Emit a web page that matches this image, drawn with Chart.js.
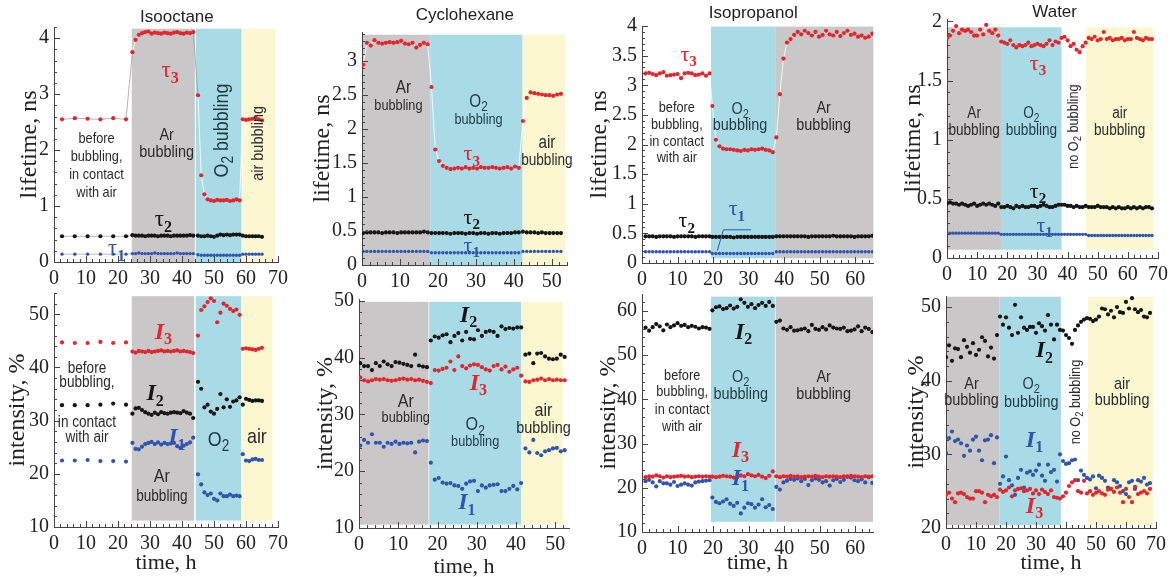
<!DOCTYPE html>
<html>
<head>
<meta charset="utf-8">
<script src="https://cdn.jsdelivr.net/npm/chart.js@4.4.1/dist/chart.umd.min.js"></script>
<style>
  body { margin:0; background:#fff; width:1174px; height:577px; overflow:hidden; position:relative; }
  canvas { position:absolute; }
</style>
</head>
<body>
<script>
// ---------- data ----------
// Isooctane (time, h)
var isoT = [2.5,6.5,10.5,14.5,18.5,22.5,
  24.5,25.5,26.5,27.5,28.5,29.5,30.5,31.5,32.5,33.5,34.5,35.5,36.5,37.5,38.5,39.5,40.5,41.5,42.5,43.5,
  45,46,47,48,49,50,51,52,53,54,55,56,57,58,
  59,60,61,62,63,64,65];
var isoTau3 = [2.55,2.57,2.56,2.55,2.57,2.55,
  3.75,3.97,4.06,4.09,4.11,4.12,4.08,4.10,4.09,4.08,4.10,4.09,4.08,4.10,4.11,4.09,4.08,4.10,4.09,4.11,
  2.98,1.55,1.21,1.12,1.10,1.09,1.11,1.10,1.10,1.11,1.09,1.10,1.12,1.10,
  2.55,2.54,2.55,2.56,2.58,2.55,2.53];
var isoTau2 = [0.46,0.46,0.46,0.46,0.46,0.46,
  0.48,0.47,0.47,0.47,0.46,0.47,0.47,0.47,0.46,0.47,0.47,0.47,0.46,0.47,0.47,0.47,0.47,0.47,0.48,0.47,
  0.47,0.46,0.46,0.47,0.46,0.45,0.47,0.49,0.48,0.49,0.48,0.49,0.49,0.49,
  0.47,0.46,0.46,0.46,0.46,0.46,0.45];
var isoTau1 = [0.14,0.14,0.14,0.14,0.14,0.14,
  0.15,0.15,0.16,0.15,0.15,0.15,0.15,0.16,0.15,0.15,0.15,0.15,0.15,0.15,0.16,0.15,0.15,0.15,0.15,0.15,
  0.13,0.12,0.12,0.12,0.12,0.12,0.12,0.12,0.12,0.12,0.12,0.12,0.12,0.12,
  0.14,0.14,0.14,0.14,0.14,0.14,0.14];
var isoI3 = [44.7,44.6,44.6,44.8,44.6,44.7,
  43.0,42.8,43.1,43.0,42.9,43.1,42.9,43.0,43.1,43.2,43.0,43.1,43.0,43.1,43.2,43.0,43.1,43.0,42.9,42.7,
  46.0,50.8,51.5,52.3,53.0,52.5,48.5,50.3,52.0,51.6,51.0,50.6,50.9,49.9,
  43.5,43.6,43.5,43.4,43.3,43.5,43.7];
var isoI2 = [32.9,32.9,32.9,33.0,33.2,33.0,
  31.3,32.3,32.4,32.0,31.6,31.3,31.1,31.5,31.2,31.6,31.4,31.3,31.5,31.6,31.5,31.4,31.8,31.5,31.3,30.5,
  37.3,36.0,32.5,33.0,31.7,31.3,32.2,35.0,32.5,34.0,32.6,33.6,33.8,34.4,
  33.0,34.1,33.9,33.7,33.8,33.8,33.7];
var isoI1 = [22.5,22.5,22.6,22.4,22.4,22.3,
  25.8,24.7,24.6,25.1,25.6,25.8,26.0,25.6,25.9,25.5,25.8,25.6,25.7,25.8,25.2,24.9,25.3,25.6,25.9,26.8,
  19.9,18.0,16.5,16.0,16.3,15.3,15.0,16.3,15.8,15.8,16.1,15.8,15.9,15.8,
  23.7,22.5,22.4,22.7,22.8,22.6,22.6];

// Cyclohexane
var cycT = [0.3,1.3,2.3,3.3,4.3,5.3,6.3,7.3,8.3,9.3,10.3,11.3,12.3,13.3,14.3,15.3,16.3,17.3,
  18.3,19.3,20.3,21.3,22.3,23.3,24.3,25.3,26.3,27.3,28.3,29.3,30.3,31.3,32.3,33.3,34.3,35.3,36.3,37.3,38.3,39.3,40.3,41.3,
  42.4,43.4,44.4,45.4,46.4,47.4,48.4,49.4,50.4,51.4,52.4];
var cycTau3 = [2.95,3.27,3.23,3.31,3.27,3.26,3.27,3.28,3.27,3.28,3.30,3.26,3.25,3.27,3.20,3.24,3.27,3.25,
  2.62,1.70,1.53,1.46,1.43,1.41,1.42,1.43,1.42,1.44,1.42,1.43,1.42,1.44,1.43,1.43,1.44,1.43,1.42,1.43,1.44,1.42,1.45,1.43,
  2.12,2.46,2.54,2.53,2.52,2.51,2.50,2.50,2.49,2.51,2.52];
var cycTau2 = [0.47,0.48,0.48,0.48,0.48,0.47,0.48,0.48,0.48,0.47,0.48,0.48,0.48,0.48,0.48,0.48,0.49,0.48,
  0.47,0.47,0.47,0.47,0.47,0.46,0.47,0.47,0.47,0.46,0.47,0.47,0.46,0.47,0.47,0.46,0.47,0.47,0.46,0.47,0.47,0.47,0.48,0.48,
  0.49,0.48,0.48,0.48,0.47,0.48,0.47,0.47,0.47,0.47,0.47];
var cycTau1 = [0.20,0.20,0.20,0.20,0.20,0.20,0.20,0.20,0.20,0.20,0.20,0.20,0.20,0.20,0.20,0.20,0.20,0.20,
  0.18,0.18,0.18,0.18,0.18,0.18,0.18,0.18,0.18,0.18,0.18,0.18,0.18,0.18,0.18,0.18,0.18,0.18,0.18,0.18,0.18,0.18,0.18,0.18,
  0.20,0.20,0.20,0.20,0.20,0.20,0.20,0.20,0.20,0.20,0.20];
var cycI2 = [39.0,38.5,38.5,37.8,39.0,38.5,39.3,38.8,38.5,39.2,39.1,38.9,38.7,38.5,40.5,38.6,38.4,38.3,
  43.0,43.7,43.5,43.9,44.1,42.7,43.8,44.3,43.0,44.5,43.3,43.2,44.8,43.8,44.5,44.7,44.5,43.8,45.5,45.0,45.2,45.1,45.3,45.3,
  40.5,40.7,39.0,40.7,40.8,40.2,39.8,39.7,39.8,40.5,40.1];
var cycI3 = [36.5,36.0,35.8,36.0,36.2,36.1,36.2,36.0,35.9,36.0,36.2,36.3,36.1,36.2,36.0,36.1,35.9,35.7,
  35.5,37.8,37.7,38.0,38.2,39.3,37.8,40.2,38.5,38.1,38.6,38.8,38.7,38.3,37.9,37.7,38.5,38.7,37.9,38.4,37.5,37.9,38.2,36.8,
  35.8,35.7,36.0,36.1,36.3,36.0,36.2,36.0,36.1,36.0,36.0];
var cycI1 = [24.5,25.5,25.0,26.5,25.0,25.0,24.3,25.0,24.8,25.2,24.8,25.0,24.9,25.0,23.3,25.2,25.4,25.3,
  21.5,18.5,18.8,18.0,17.8,17.9,17.5,17.4,16.9,17.8,18.2,18.3,16.5,17.5,17.1,17.5,17.6,17.7,16.5,16.5,16.9,17.4,16.8,17.9,
  24.0,23.3,25.5,23.2,22.8,23.5,23.7,24.0,24.1,23.5,23.7];

// Isopropanol
var propT = [1,2,3,4,5,6,7,8,9,10,11,12,13,14,15,16,17,18,19,
  19.8,20.8,21.8,22.8,23.8,24.8,25.8,26.8,27.8,28.8,29.8,30.8,31.8,32.8,33.8,34.8,35.8,36.8,
  37.8,38.8,39.8,40.8,41.8,42.8,43.8,44.8,45.8,46.8,47.8,48.8,49.8,50.8,51.8,52.8,53.8,54.8,55.8,56.8,57.8,58.8,59.8,60.8,61.8,62.8,63.8,64.8];
var propTau3 = [3.20,3.21,3.19,3.17,3.20,3.22,3.16,3.17,3.18,3.19,3.12,3.20,3.21,3.20,3.17,3.18,3.20,3.16,3.20,
  2.65,2.08,1.97,1.93,1.92,1.92,1.91,1.90,1.89,1.91,1.90,1.92,1.91,1.92,1.93,1.91,1.90,1.87,
  2.12,2.85,3.45,3.72,3.78,3.85,3.90,3.86,3.92,3.88,3.84,3.90,3.82,3.85,3.92,3.86,3.84,3.90,3.83,3.88,3.92,3.85,3.87,3.82,3.84,3.80,3.82,3.87];
var propTau2 = [0.45,0.45,0.45,0.44,0.45,0.45,0.45,0.45,0.44,0.45,0.45,0.45,0.45,0.45,0.44,0.45,0.45,0.45,0.45,
  0.44,0.44,0.44,0.44,0.44,0.44,0.43,0.44,0.44,0.44,0.44,0.44,0.44,0.44,0.44,0.44,0.44,0.44,
  0.45,0.45,0.45,0.45,0.45,0.45,0.45,0.45,0.45,0.44,0.45,0.45,0.45,0.45,0.45,0.45,0.46,0.45,0.45,0.45,0.45,0.45,0.44,0.45,0.45,0.45,0.45,0.46];
var propTau1 = [0.19,0.19,0.19,0.19,0.19,0.19,0.19,0.19,0.19,0.19,0.19,0.19,0.19,0.19,0.19,0.19,0.19,0.19,0.19,
  0.16,0.16,0.16,0.16,0.16,0.16,0.16,0.16,0.16,0.16,0.16,0.16,0.16,0.16,0.16,0.16,0.16,0.16,
  0.19,0.19,0.19,0.19,0.19,0.19,0.19,0.19,0.19,0.19,0.19,0.19,0.19,0.19,0.19,0.19,0.19,0.19,0.19,0.19,0.19,0.19,0.19,0.19,0.19,0.19,0.19,0.19];
var propI2 = [56.2,55.5,56.3,57.0,56.5,55.6,56.9,56.3,56.7,57.2,56.6,56.8,56.3,56.6,56.4,56.0,56.3,56.2,55.9,
  60.1,60.8,61.0,60.4,60.6,61.2,60.5,60.9,62.6,61.8,60.9,61.5,60.6,61.3,61.8,61.1,62.0,61.1,
  57.5,57.8,56.0,55.7,56.3,55.5,55.6,55.8,56.0,55.4,56.8,55.9,55.7,56.3,55.8,56.7,56.2,56.0,55.9,56.2,55.4,55.5,55.8,56.5,55.4,56.2,55.9,55.2];
var propI3 = [22.4,22.6,22.5,22.8,22.6,22.3,22.6,22.4,22.5,22.6,22.7,22.5,22.6,22.4,22.5,22.6,22.5,22.6,22.5,
  22.5,22.4,22.5,22.7,22.6,22.5,22.3,22.4,22.8,22.6,23.1,22.8,22.6,22.9,22.5,22.2,22.7,23.7,
  22.6,22.4,22.6,22.5,22.7,22.5,22.6,22.4,22.5,22.6,22.5,22.7,22.5,22.4,22.6,22.5,22.6,22.5,22.4,22.6,22.5,22.7,22.6,22.5,22.4,22.6,22.5,22.6];
var propI1 = [21.5,21.8,21.2,20.3,21.5,21.0,21.0,20.7,21.3,20.4,20.7,21.0,20.7,20.5,21.2,21.4,21.5,21.6,21.7,
  17.8,16.8,16.5,16.9,17.4,16.4,15.9,16.6,14.2,15.5,16.5,16.3,15.5,16.2,17.4,15.6,16.1,15.2,
  20.2,19.6,21.2,21.6,22.0,21.8,22.1,21.5,22.0,20.6,21.7,22.1,21.8,21.2,21.5,20.5,21.7,22.0,21.3,21.8,22.5,22.3,21.7,21.5,21.9,21.2,22.4,21.1];

// Water
var waterT = [0,1,2,3,4,5,6,7,8,9,10,11,12,13,14,15,16,17,
  18,19,20,21,22,23,24,25,26,27,28,29,30,31,32,33,34,35,36,37,
  38,39,40,41,42,43,44,45,46,
  47,48,49,50,51,52,53,54,55,56,57,58,59,60,61,62,63,64,65,66,67,68];
var waterTau3 = [1.86,1.88,1.92,1.96,1.90,1.93,1.92,1.93,1.91,1.88,1.88,1.93,1.89,1.97,1.92,1.90,1.93,1.88,
  1.83,1.82,1.81,1.84,1.80,1.78,1.80,1.79,1.80,1.82,1.79,1.80,1.81,1.80,1.79,1.81,1.84,1.80,1.83,1.82,
  1.86,1.87,1.84,1.79,1.81,1.76,1.74,1.79,1.82,
  1.86,1.85,1.87,1.84,1.85,1.91,1.85,1.86,1.84,1.85,1.85,1.86,1.84,1.85,1.85,1.91,1.86,1.85,1.84,1.86,1.85,1.85];
var waterTau2 = [0.46,0.47,0.46,0.46,0.45,0.46,0.45,0.44,0.45,0.46,0.44,0.45,0.46,0.45,0.46,0.45,0.44,0.46,
  0.43,0.43,0.44,0.43,0.42,0.44,0.43,0.44,0.43,0.43,0.44,0.44,0.43,0.44,0.45,0.44,0.43,0.43,0.44,0.45,
  0.45,0.45,0.44,0.44,0.43,0.44,0.43,0.43,0.44,
  0.43,0.43,0.43,0.44,0.43,0.43,0.43,0.42,0.43,0.42,0.43,0.42,0.42,0.43,0.42,0.43,0.42,0.43,0.42,0.43,0.43,0.42];
var waterTau1 = [0.21,0.21,0.21,0.21,0.21,0.21,0.21,0.21,0.21,0.21,0.21,0.21,0.21,0.21,0.21,0.21,0.21,0.21,
  0.20,0.20,0.20,0.20,0.20,0.20,0.20,0.20,0.20,0.20,0.20,0.20,0.20,0.20,0.20,0.20,0.20,0.20,0.20,0.20,
  0.20,0.20,0.20,0.20,0.20,0.20,0.20,0.20,0.20,
  0.19,0.19,0.19,0.19,0.19,0.19,0.19,0.19,0.19,0.19,0.19,0.19,0.19,0.19,0.19,0.19,0.19,0.19,0.19,0.19,0.19,0.19];
var waterI2 = [43.2,44.8,42.7,44.4,44.3,43.2,45.5,44.6,43.8,45.1,43.5,44.2,45.9,45.4,43.3,44.5,43.0,46.2,
  48.7,47.6,48.6,47.2,46.2,50.3,46.5,48.6,47.2,46.9,47.3,47.3,46.5,47.8,47.4,46.8,48.9,47.6,45.6,47.6,
  46.9,46.8,46.2,45.8,45.0,46.9,47.5,48.0,48.3,
  48.5,48.4,48.1,48.3,48.7,49.8,49.7,49.0,49.5,48.6,50.0,49.3,49.2,50.7,49.8,51.2,49.7,49.3,49.6,48.7,48.6,49.2];
var waterI1 = [30.2,32.2,33.1,31.8,32.0,31.5,29.8,31.2,30.5,32.0,32.4,30.5,29.2,31.9,32.0,32.6,28.8,32.3,
  26.0,27.0,29.7,26.5,25.8,24.5,26.8,27.9,25.5,27.5,27.7,27.2,27.8,28.6,27.1,26.4,28.6,27.6,27.9,26.3,
  30.0,29.1,28.7,28.8,29.2,29.3,26.5,27.8,27.2,
  26.8,26.6,27.0,25.4,27.1,26.8,26.4,25.5,25.3,26.5,26.2,25.7,25.0,24.6,26.2,26.4,25.3,26.5,26.3,26.8,25.9,26.1];
var waterI3 = [24.5,24.8,24.0,23.5,24.7,24.8,24.6,24.2,24.0,24.0,25.0,25.0,24.8,23.5,24.5,24.3,24.5,24.2,
  25.2,24.9,25.1,25.5,24.3,25.1,25.3,25.4,25.0,25.1,25.3,24.7,25.1,24.6,25.2,24.9,24.6,25.1,24.2,24.1,
  24.0,24.3,24.8,25.7,26.2,26.5,25.0,24.8,26.4,
  24.7,25.0,24.5,24.8,25.0,24.7,24.5,25.2,25.3,24.9,25.5,24.8,23.5,25.3,24.2,23.5,25.6,24.6,24.8,25.0,24.7,25.3];

// bubbling periods: [start, end, gas]
var isoTopRegions = [[24.3,44.0,'ar'],[44.3,58.6,'o2'],[58.9,69.2,'air']];
var isoBotRegions = [[24.3,43.8,'ar'],[44.3,58.5,'o2'],[58.8,68.3,'air']];
var cycTopRegions = [[0,18,'ar'],[18,42.3,'o2'],[42.3,53.5,'air']];
var cycBotRegions = [[0,17.7,'ar'],[17.9,41.3,'o2'],[41.5,52,'air']];
var propTopRegions = [[19.4,37.5,'o2'],[37.5,65.1,'ar']];
var propBotRegions = [[19.4,37.4,'o2'],[37.6,65,'ar']];
var waterTopRegions = [[0,17.9,'ar'],[17.9,38,'o2'],[46.1,68.4,'air']];
var waterBotRegions = [[0,17.8,'ar'],[17.8,38.3,'o2'],[47.3,69,'air']];

// ---------- styles ----------
var REG_COL = {ar:'#c9c7c7', o2:'#a9dbe7', air:'#fbf7d1'};
var RED = '#e3262c', BLK = '#151515', BLUE = '#2f55b0', DARK = '#2b2b2b', TEAL = '#1c3b46';
var SER_COL = [RED, BLK, BLUE];

// ---------- panel layout ----------
var panels = [
  {left:15, top:0, w:279, h:290, padTop:27, padR:16, yW:39, xH:28, xMax:70, yMin:0, yMax:4.2, yStep:1,
   yTitle:'lifetime, ns', lines:true, times:isoT, series:[isoTau3,isoTau2,isoTau1], regions:isoTopRegions, regionY:[0,4.17],
   notes:[['Isooctane',38.4,4.38,'title',17],['τ_3',36.3,3.42,'tau',23,RED],['Ar',35.2,2.26,'sans',17],['bubbling',35.2,1.96,'sans',17],
     ['O_2 bubbling',52.5,2.35,'sans',21,TEAL,-90],['air bubbling',64,2.12,'sans',17,DARK,-90],
     ['before',13.3,2.2,'sans',15],['bubbling,',13.3,1.88,'sans',15],['in contact',13.3,1.55,'sans',15],['with air',13.3,1.23,'sans',15],
     ['τ_2',34.2,0.745,'tau',23,BLK],['τ_1',19.6,0.24,'tau',23,BLUE]]},
  {left:308, top:0, w:275, h:293, padTop:32, padR:16, yW:54, xH:28, xMax:54, yMin:0, yMax:3.43, yStep:0.5,
   yTitle:'lifetime, ns', lines:true, times:cycT, series:[cycTau3,cycTau2,cycTau1], regions:cycTopRegions, regionY:[0,3.39],
   notes:[['Cyclohexane',27.1,3.68,'title',17],['Ar',10.9,2.6,'sans',18],['bubbling',9.6,2.35,'sans',15],
     ['O_2',30.7,2.4,'sans',18,TEAL],['bubbling',30.7,2.13,'sans',15,TEAL],['air',48.7,1.79,'sans',18],['bubbling',48.7,1.54,'sans',16],
     ['τ_3',28.9,1.63,'tau',22,RED],['τ_2',28.9,0.69,'tau',22,BLK],['τ_1',28.9,0.28,'tau',22,BLUE]]},
  {left:585, top:0, w:300, h:291, padTop:26, padR:12, yW:57, xH:28, xMax:65, yMin:0, yMax:4, yStep:0.5,
   yTitle:'lifetime, ns', lines:true, times:propT, series:[propTau3,propTau2,propTau1], regions:propTopRegions, regionY:[0.08,3.99],
   notes:[['Isopropanol',31.3,4.21,'title',17],['τ_3',13.1,3.51,'tau',22,RED],
     ['before',9.8,2.61,'sans',15],['bubbling,',9.8,2.33,'sans',15],['in contact',9.8,2.05,'sans',15],['with air',9.8,1.77,'sans',15],
     ['O_2',27.6,2.59,'sans',17,TEAL],['bubbling',27.6,2.32,'sans',17,TEAL],['Ar',51.1,2.61,'sans',17],['bubbling',51.1,2.32,'sans',17],
     ['τ_2',12.6,0.70,'tau',22,BLK],['τ_1',26.7,0.90,'tau',22,BLUE]],
   paths:[[[30.7,0.56],[22.9,0.56],[21.2,0.21]]]},
  {left:899, top:0, w:274, h:286, padTop:19, padR:11, yW:48, xH:28, xMax:70, yMin:0, yMax:2.02, yStep:0.5,
   yTitle:'lifetime, ns', lines:true, times:waterT, series:[waterTau3,waterTau2,waterTau1], regions:waterTopRegions, regionY:[0.07,1.95],
   notes:[['Water',35.7,2.08,'title',17],['τ_3',30.2,1.64,'tau',22,RED],['Ar',9,1.22,'sans',16],['bubbling',9,1.08,'sans',16],
     ['O_2',28,1.22,'sans',16,TEAL],['bubbling',28,1.08,'sans',16,TEAL],['no O_2 bubbling',42.1,1.11,'sans',15,DARK,-90],
     ['air',57.3,1.22,'sans',16],['bubbling',57.3,1.08,'sans',16],['τ_2',30.2,0.56,'tau',22,BLK],['τ_1',32.4,0.27,'tau',22,BLUE]]},
  {left:3, top:276, w:291, h:300, padTop:16, padR:16, yW:51, xH:49, xMax:70, yMin:10, yMax:54, yStep:10,
   yTitle:'intensity, %', xTitle:'time, h', lines:false, times:isoT, series:[isoI3,isoI2,isoI1], regions:isoBotRegions, regionY:[11.2,53.4],
   notes:[['I_3',34.2,46.6,'I',24,RED],['before',10.3,39.8,'sans',16],['bubbling,',10.3,37.2,'sans',16],['in contact',10.3,29.6,'sans',16],
     ['with air',10.3,26.9,'sans',16],['I_2',31.6,35,'I',24,BLK],['I_1',38.4,26.7,'I',24,BLUE],
     ['O_2',51.4,26.3,'sans',21,TEAL],['air',63.4,26.9,'sans',21],['Ar',33.7,19.5,'sans',19],['bubbling',33.7,15.7,'sans',16]]},
  {left:311, top:282, w:274, h:298, padTop:16, padR:16, yW:48, xH:52, xMax:53.5, yMin:10, yMax:50.3, yStep:10,
   yTitle:'intensity, %', xTitle:'time, h', lines:false, times:cycT, series:[cycI3,cycI2,cycI1], regions:cycBotRegions, regionY:[10.6,49.8],
   notes:[['I_2',27.9,47.4,'I',24,BLK],['I_3',30.4,35.4,'I',24,RED],['I_1',27.5,14.4,'I',24,BLUE],
     ['Ar',11.9,32.2,'sans',19],['bubbling',11.9,29.3,'sans',15],['O_2',29.6,28.1,'sans',19,TEAL],['bubbling',29.6,25.2,'sans',15,TEAL],
     ['air',47,30.7,'sans',19],['bubbling',47,27.5,'sans',17]]},
  {left:594, top:277, w:291, h:299, padTop:16, padR:12, yW:48, xH:44, xMax:65, yMin:10, yMax:63.8, yStep:10,
   yTitle:'intensity, %', xTitle:'time, h', lines:false, times:propT, series:[propI3,propI2,propI1], regions:propBotRegions, regionY:[12.3,63.2],
   notes:[['I_2',28.6,55.1,'I',24,BLK],['before',11.3,45.4,'sans',15],['bubbling,',11.3,41.6,'sans',15],['in contact',11.3,37.5,'sans',15],
     ['with air',11.3,33.7,'sans',15],['O_2',27.8,45,'sans',17,TEAL],['bubbling',27.8,41.2,'sans',17,TEAL],
     ['Ar',51.1,45,'sans',17],['bubbling',51.1,41.2,'sans',17],['I_3',27.7,28.4,'I',24,RED],['I_1',27.7,22,'I',24,BLUE]]},
  {left:902, top:279, w:269, h:297, padTop:16, padR:14, yW:44, xH:48, xMax:70, yMin:20, yMax:51.5, yStep:10,
   yTitle:'intensity, %', xTitle:'time, h', lines:false, times:waterT, series:[waterI3,waterI2,waterI1], regions:waterBotRegions, regionY:[20.4,51.4],
   notes:[['I_2',32.8,44,'I',24,BLK],['Ar',8.5,39.5,'sans',17],['bubbling',8.5,37.3,'sans',17],['O_2',28.4,39.5,'sans',17,TEAL],
     ['bubbling',28.4,37.1,'sans',17,TEAL],['no O_2 bubbling',43.3,37.1,'sans',15,DARK,-90],['air',58.7,39.5,'sans',17],
     ['bubbling',58.7,37.3,'sans',17],['I_1',29.5,31.9,'I',24,BLUE],['I_3',29.5,22.9,'I',24,RED]]}
];

Chart.defaults.font.family = '"Liberation Serif", "Times New Roman", serif';

function pts(t, v) { return t.map(function (x, i) { return {x: x, y: v[i]}; }); }
function inRegion(regs, x) { return regs.some(function (r) { return x >= r[0] && x <= r[1]; }); }

// text with "_" subscripts, centred on (px,py)
function drawRich(ctx, str, px, py, kind, size, color, rot) {
  var parts = str.split('_'), segs = [];
  parts.forEach(function (s, i) {
    if (i === 0) { if (s) segs.push([s, false]); }
    else { segs.push([s[0], true]); if (s.length > 1) segs.push([s.slice(1), false]); }
  });
  var fMain, fSub, dy, sx = 1;
  if (kind === 'sans' || kind === 'title') {
    fMain = size + 'px "Liberation Sans", Arial, sans-serif';
    fSub = Math.round(size * 0.75) + 'px "Liberation Sans", Arial, sans-serif';
    dy = size * 0.3; if (kind === 'sans') sx = 0.85;
  } else if (kind === 'tau') {
    fMain = size + 'px "Liberation Serif", serif';
    fSub = 'bold ' + Math.round(size * 0.68) + 'px "Liberation Serif", serif';
    dy = size * 0.34;
  } else {
    fMain = 'bold italic ' + size + 'px "Liberation Serif", serif';
    fSub = 'bold ' + Math.round(size * 0.66) + 'px "Liberation Serif", serif';
    dy = size * 0.32;
  }
  ctx.save();
  ctx.translate(px, py);
  if (rot) ctx.rotate(rot * Math.PI / 180);
  ctx.scale(sx, 1);
  ctx.textBaseline = 'middle'; ctx.textAlign = 'left'; ctx.fillStyle = color;
  var total = 0;
  var widths = segs.map(function (s) { ctx.font = s[1] ? fSub : fMain; var w = ctx.measureText(s[0]).width; total += w; return w; });
  var cx = -total / 2;
  segs.forEach(function (s, i) { ctx.font = s[1] ? fSub : fMain; ctx.fillText(s[0], cx, s[1] ? dy : 0); cx += widths[i]; });
  ctx.restore();
}

function deco(p) {
  return {
    id: 'deco',
    beforeDraw: function (chart) {
      var ctx = chart.ctx, xs = chart.scales.x, ys = chart.scales.y;
      var yt = ys.getPixelForValue(p.regionY[1]), yb = ys.getPixelForValue(p.regionY[0]);
      ctx.save();
      p.regions.forEach(function (r) {
        var x0 = xs.getPixelForValue(r[0]), x1 = xs.getPixelForValue(r[1]);
        ctx.fillStyle = REG_COL[r[2]];
        ctx.fillRect(x0, yt, x1 - x0, yb - yt);
      });
      ctx.restore();
    },
    afterDraw: function (chart) {
      var ctx = chart.ctx, ca = chart.chartArea, xs = chart.scales.x, ys = chart.scales.y;
      // inward ticks, major + minor
      ctx.save();
      ctx.strokeStyle = '#444'; ctx.lineWidth = 1; ctx.beginPath();
      var k, v, px, py;
      for (k = 0; k * 2 <= p.xMax + 1e-9; k++) {
        v = k * 2; px = Math.round(xs.getPixelForValue(v)) + 0.5;
        ctx.moveTo(px, ca.bottom); ctx.lineTo(px, ca.bottom - (k % 5 === 0 ? 6 : 3));
      }
      var ym = p.yStep / 5;
      for (k = 0; p.yMin + k * ym <= p.yMax + 1e-9; k++) {
        v = p.yMin + k * ym; py = Math.round(ys.getPixelForValue(v)) + 0.5;
        ctx.moveTo(ca.left, py); ctx.lineTo(ca.left + (k % 5 === 0 ? 6 : 3), py);
      }
      ctx.stroke();
      (p.paths || []).forEach(function (path) {
        ctx.strokeStyle = BLUE; ctx.lineWidth = 1; ctx.beginPath();
        path.forEach(function (q, i) {
          var a = xs.getPixelForValue(q[0]), b = ys.getPixelForValue(q[1]);
          if (i) ctx.lineTo(a, b); else ctx.moveTo(a, b);
        });
        ctx.stroke();
      });
      ctx.restore();
      p.notes.forEach(function (n) {
        drawRich(ctx, n[0], xs.getPixelForValue(n[1]), ys.getPixelForValue(n[2]), n[3], n[4], n[5] || (n[3] === 'title' ? '#222' : DARK), n[6] || 0);
      });
    }
  };
}

panels.forEach(function (p) {
  var cv = document.createElement('canvas');
  cv.width = p.w; cv.height = p.h;
  cv.style.left = p.left + 'px'; cv.style.top = p.top + 'px';
  cv.style.width = p.w + 'px'; cv.style.height = p.h + 'px';
  document.body.appendChild(cv);

  var sets = p.series.map(function (s, i) {
    return {
      data: pts(p.times, s),
      pointRadius: i === 2 && p.lines ? 1.7 : 2.1,
      pointBackgroundColor: SER_COL[i],
      pointBorderWidth: 0,
      showLine: p.lines,
      borderWidth: 0.9,
      borderColor: '#aaa',
      segment: {
        borderColor: function (c) {
          var mid = (c.p0.parsed.x + c.p1.parsed.x) / 2;
          var inside = inRegion(p.regions, mid);
          if (i === 0) return inside ? 'rgba(255,255,255,0.95)' : 'rgba(150,150,150,0.8)';
          return inside ? 'rgba(0,0,0,0)' : 'rgba(150,150,150,0.7)';
        }
      }
    };
  });

  new Chart(cv, {
    type: 'scatter',
    data: { datasets: sets },
    options: {
      responsive: false, animation: false, events: [],
      layout: { padding: { top: p.padTop, right: p.padR, left: 0, bottom: 0 } },
      plugins: { legend: { display: false }, tooltip: { enabled: false } },
      scales: {
        x: {
          type: 'linear', min: 0, max: p.xMax,
          border: { display: true, color: '#444', width: 1 },
          grid: { display: false, drawTicks: false },
          ticks: { stepSize: 10, includeBounds: false, autoSkip: false, maxRotation: 0, padding: 5, color: '#222', font: { size: 20 } },
          title: p.xTitle ? { display: true, text: p.xTitle, color: '#222', font: { size: 22 }, padding: 0 } : { display: false },
          afterFit: function (s) { s.height = p.xH; }
        },
        y: {
          type: 'linear', min: p.yMin, max: p.yMax,
          border: { display: true, color: '#444', width: 1 },
          grid: { display: false, drawTicks: false },
          ticks: { stepSize: p.yStep, includeBounds: false, padding: 5, color: '#222', font: { size: 20 },
            callback: function (v) { return String(Math.round(v * 100) / 100); } },
          title: { display: true, text: p.yTitle, color: '#222', font: { size: 24 }, padding: 0 },
          afterFit: function (s) { s.width = p.yW; }
        }
      }
    },
    plugins: [deco(p)]
  });
});
</script>
</body>
</html>
